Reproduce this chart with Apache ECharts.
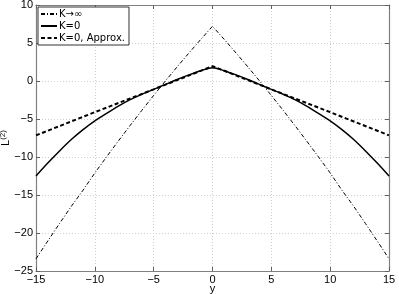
<!DOCTYPE html>
<html>
<head>
<meta charset="utf-8">
<script src="https://cdn.jsdelivr.net/npm/echarts@6/dist/echarts.min.js"></script>
<style>
html,body{margin:0;padding:0;background:#fff;}
#c{width:399px;height:294px;}
</style>
</head>
<body>
<div id="c"></div>
<script>
var yVals = [-15,-14,-13,-12,-11,-10,-9,-8,-7,-6,-5,-4,-3,-2,-1,0,1,2,3,4,5,6,7,8,9,10,11,12,13,14,15];
var kInf = [-23.4,-21.05,-18.75,-16.49,-14.37,-12.1,-9.97,-7.89,-5.85,-3.85,-1.9,0.01,1.87,3.69,5.47,7.2,5.47,3.69,1.87,0.01,-1.9,-3.85,-5.85,-7.89,-9.97,-12.1,-14.37,-16.49,-18.75,-21.05,-23.4];
var kZero = [-12.5,-10.8,-9.2,-7.7,-6.4,-5.25,-4.25,-3.3,-2.45,-1.75,-1.1,-0.45,0.2,0.8,1.35,1.75,1.35,0.8,0.2,-0.45,-1.1,-1.75,-2.45,-3.3,-4.25,-5.25,-6.4,-7.7,-9.2,-10.8,-12.5];
var approxY = [-15,-10,-5,0,5,10,15];
var kApprox = [-7.15,-4.1,-1.1,1.95,-1.1,-4.1,-7.15];
var xTicks = {min:-15,max:15,interval:5};
var yTicks = {min:-25,max:10,interval:5};
var names = ['K\u2192\u221e','K=0','K=0, Approx.'];

function pairs(xs, ys){ return xs.map(function(x,i){return [x, ys[i]];}); }
function fmt(v){ return String(v).replace('-', '\u2212'); }

var font = 'Liberation Sans, Arial, Helvetica, sans-serif';
var axisLine = {show:true, onZero:false, lineStyle:{color:'#808080', width:1.2}};
var tick = {show:true, inside:true, length:4, lineStyle:{color:'#606060'}};
var split = {show:true, lineStyle:{color:'#cfcfcf', type:[1,2], width:1}};

var chart = echarts.init(document.getElementById('c'), null, {renderer:'canvas'});
chart.setOption({
  animation:false,
  backgroundColor:'#fff',
  color:['#000','#000','#000'],
  textStyle:{fontFamily:font},
  grid:{left:36, right:10, top:5, bottom:23, containLabel:false, outerBoundsMode:'none'},
  legend:{
    data:names, orient:'vertical', left:38, top:7,
    backgroundColor:'#fff', borderColor:'#333', borderWidth:1, borderRadius:0,
    padding:[2,4,2,2], itemGap:2, itemWidth:16, itemHeight:10,
    itemStyle:{opacity:0},
    textStyle:{fontSize:10, color:'#000', fontFamily:'DejaVu Sans, Liberation Sans, sans-serif', padding:[0,0,0,-3]}
  },
  xAxis:[
    {type:'value', min:xTicks.min, max:xTicks.max, interval:xTicks.interval, position:'bottom',
     name:'y', nameLocation:'middle', nameGap:12, nameMoveOverlap:false, nameTextStyle:{fontSize:11, color:'#000'},
     axisLine:axisLine, axisTick:tick, splitLine:split,
     axisLabel:{fontSize:11, color:'#000', margin:3, formatter:fmt}},
    {type:'value', min:xTicks.min, max:xTicks.max, interval:xTicks.interval, position:'top',
     axisLine:axisLine, axisTick:tick, splitLine:{show:false}, axisLabel:{show:false}}
  ],
  yAxis:[
    {type:'value', min:yTicks.min, max:yTicks.max, interval:yTicks.interval, position:'left',
     name:'L{s|(2)}', nameLocation:'middle', nameGap:24, nameRotate:90, nameMoveOverlap:false,
     nameTextStyle:{fontSize:11, color:'#000', rich:{s:{fontSize:8, verticalAlign:'top', padding:[0,0,5,0]}}},
     axisLine:axisLine, axisTick:tick, splitLine:split,
     axisLabel:{fontSize:11, color:'#000', margin:3, formatter:fmt}},
    {type:'value', min:yTicks.min, max:yTicks.max, interval:yTicks.interval, position:'right',
     axisLine:axisLine, axisTick:tick, splitLine:{show:false}, axisLabel:{show:false}}
  ],
  series:[
    {name:names[0], type:'line', data:pairs(yVals,kInf), symbol:'none', smooth:false,
     itemStyle:{color:'#000'}, lineStyle:{color:'#000', width:1, type:[4,2,1,2]}, z:3},
    {name:names[1], type:'line', data:pairs(yVals,kZero), symbol:'none', smooth:0.3,
     itemStyle:{color:'#000'}, lineStyle:{color:'#000', width:1.5, type:'solid'}, z:4},
    {name:names[2], type:'line', data:pairs(approxY,kApprox), symbol:'none', smooth:false,
     itemStyle:{color:'#000'}, lineStyle:{color:'#000', width:2, type:[4,2.5]}, z:5}
  ]
});
</script>
</body>
</html>
